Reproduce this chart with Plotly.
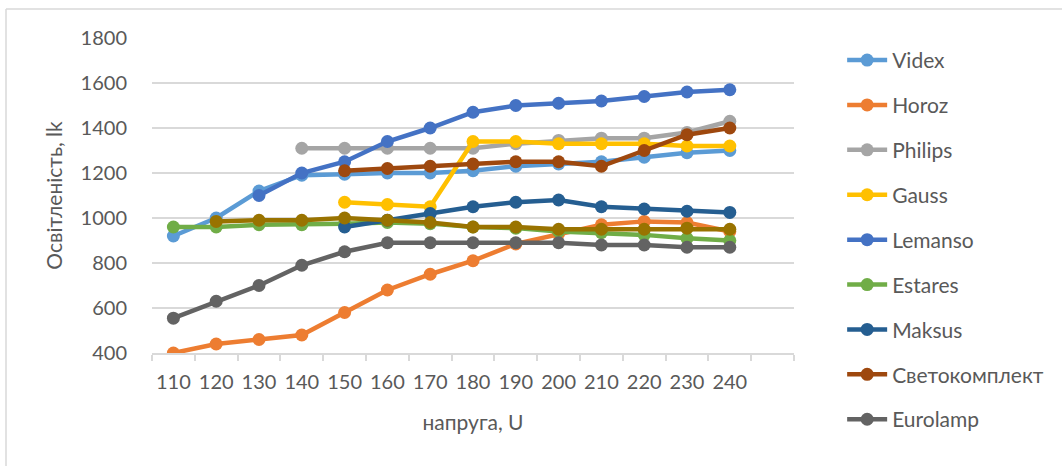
import plotly.graph_objects as go

voltage = [110, 120, 130, 140, 150, 160, 170, 180, 190, 200, 210, 220, 230, 240]
tick_labels = [str(v) for v in voltage]

N = None
videx     = [920, 1000, 1120, 1190, 1195, 1200, 1200, 1210, 1230, 1240, 1250, 1270, 1290, 1300]
horoz     = [400, 440, 460, 480, 580, 680, 750, 810, 885, 930, 970, 985, 980, 940]
philips   = [N, N, N, 1310, 1310, 1310, 1310, 1310, 1330, 1345, 1355, 1355, 1380, 1430]
gauss     = [N, N, N, N, 1070, 1060, 1050, 1340, 1340, 1330, 1330, 1330, 1320, 1320]
lemanso   = [N, N, 1100, 1200, 1250, 1340, 1400, 1470, 1500, 1510, 1520, 1540, 1560, 1570]
estares   = [960, 960, 970, 970, 975, 980, 975, 960, 955, 940, 935, 925, 910, 900]
maksus    = [N, N, N, N, 960, 990, 1020, 1050, 1070, 1080, 1050, 1040, 1030, 1025]
svetokomp = [N, N, N, N, 1210, 1220, 1230, 1240, 1250, 1250, 1230, 1300, 1370, 1400]
eurolamp  = [555, 630, 700, 790, 850, 890, 890, 890, 890, 890, 880, 880, 870, 870]
series10  = [N, 985, 990, 990, 1000, 990, 980, 960, 960, 950, 950, 950, 955, 950]

names = ["Videx", "Horoz", "Philips", "Gauss", "Lemanso", "Estares", "Maksus",
         "Светокомплект", "Eurolamp", "Series10"]
values = [videx, horoz, philips, gauss, lemanso, estares, maksus, svetokomp, eurolamp, series10]
colors = ["#5B9BD5", "#ED7D31", "#A5A5A5", "#FFC000", "#4472C4", "#70AD47", "#255E91",
          "#9E480E", "#636363", "#997300"]
show = [True] * 9 + [False]

FONT = "Lato"
TXT = "#595959"

fig = go.Figure()
for i, (nm, ys, c, s) in enumerate(zip(names, values, colors, show)):
    fig.add_trace(go.Scatter(
        x=voltage, y=ys, name=nm, mode="lines+markers",
        line=dict(color=c, width=4.5),
        marker=dict(color=c, size=13),
        connectgaps=False, showlegend=s, legendgroup=f"g{i}",
    ))

W, H = 1063, 466
L, R, T, B = 152, 794, 38, 353

fig.update_layout(
    width=W, height=H,
    margin=dict(l=L, r=W - R, t=T, b=H - B, autoexpand=False),
    paper_bgcolor="white", plot_bgcolor="white",
    font=dict(family=FONT, size=20, color=TXT),
    legend=dict(x=1.075, xanchor="left", y=0.994, yanchor="top",
                font=dict(family=FONT, size=21, color=TXT),
                tracegroupgap=14.6, itemwidth=40, bgcolor="rgba(0,0,0,0)",
                maxheight=460),
    showlegend=True,
)
fig.update_xaxes(
    range=[105, 255], tickmode="array", tickvals=voltage, ticktext=tick_labels,
    ticks="", showgrid=False, zeroline=False, ticklabelstandoff=10,
    showline=True, linecolor="#D9D9D9", linewidth=1.5,
    tickfont=dict(family=FONT, size=20, color=TXT),
    minor=dict(tick0=105, dtick=10, ticks="outside", ticklen=6, tickcolor="#D9D9D9",
               tickwidth=1.5, showgrid=False),
    title=dict(text="напруга, U", font=dict(family=FONT, size=21, color=TXT), standoff=24),
)
fig.update_yaxes(
    range=[400, 1800], tickmode="linear", tick0=400, dtick=200,
    showgrid=True, gridcolor="#D9D9D9", gridwidth=1.5, zeroline=False,
    showline=False, ticks="", ticklabelstandoff=24,
    tickfont=dict(family=FONT, size=20, color=TXT),
    title=dict(text="Освітленість, lk", font=dict(family=FONT, size=21, color=TXT), standoff=12),
)

# chart-area border (top and left visible)
pw, ph = R - L, B - T
def px(xp): return (xp - L) / pw
def py(yp): return (B - yp) / ph
fig.add_shape(type="line", xref="paper", yref="paper", x0=px(6), x1=px(1062), y0=py(9), y1=py(9),
              line=dict(color="#D9D9D9", width=1.5))
fig.add_shape(type="line", xref="paper", yref="paper", x0=px(6), x1=px(6), y0=py(9), y1=py(470),
              line=dict(color="#D9D9D9", width=1.5))

fig.write_html("out.html", config={"displayModeBar": False},
               post_script="document.body.style.margin='0px';")
